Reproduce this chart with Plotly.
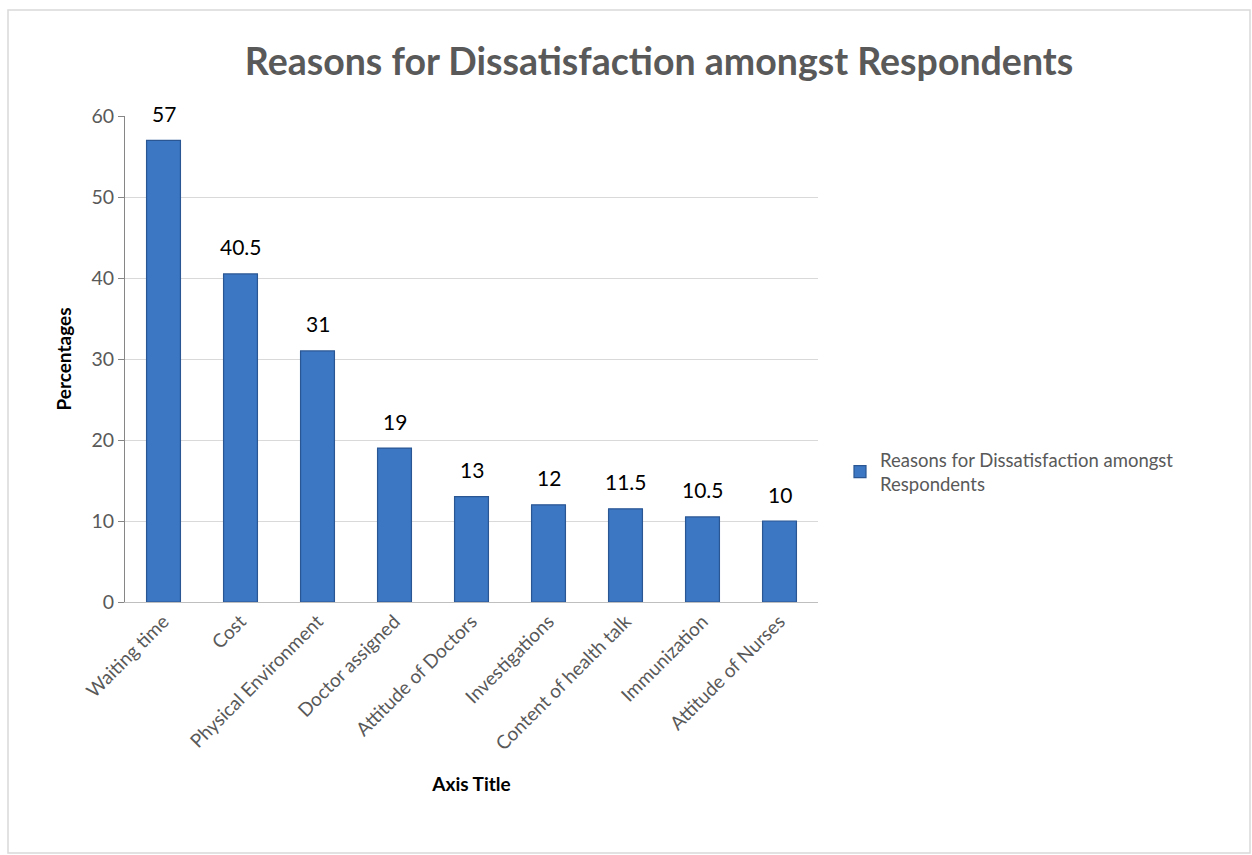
import plotly.graph_objects as go

categories = ["Waiting time", "Cost", "Physical Environment", "Doctor assigned",
              "Attitude of Doctors", "Investigations", "Content of health talk",
              "Immunization", "Attitude of Nurses"]
values = [57, 40.5, 31, 19, 13, 12, 11.5, 10.5, 10]
labels = ["57", "40.5", "31", "19", "13", "12", "11.5", "10.5", "10"]
series_name = "Reasons for Dissatisfaction amongst<br>Respondents"
title_text = "Reasons for Dissatisfaction amongst Respondents"

W, H = 1252, 855
L, R, T, B = 125, 434, 116, 253
pw, ph = W - L - R, H - T - B

def px_x(x):
    return (x - L) / pw

def px_y(y):
    return (H - B - y) / ph

FONT = "Lato, Calibri, Carlito, sans-serif"

fig = go.Figure()
fig.add_trace(go.Bar(
    x=categories, y=values, name=series_name,
    marker=dict(color="#3C77C3", line=dict(color="#2A5794", width=1.2)),
    cliponaxis=False,
))

for c, v, t in zip(categories, values, labels):
    fig.add_annotation(x=c, y=v, text=t, showarrow=False, yanchor="middle",
                       yshift=27, font=dict(family=FONT, size=21, color="#000000"))

fig.update_layout(
    width=W, height=H,
    margin=dict(l=L, r=R, t=T, b=B),
    paper_bgcolor="white", plot_bgcolor="white",
    bargap=0.56,
    showlegend=True,
    legend=dict(x=px_x(840), y=px_y(441), xanchor="left", yanchor="top",
                font=dict(family=FONT, size=18.5, color="#595959"),
                bgcolor="rgba(0,0,0,0)"),
    title=dict(text="<b>" + title_text + "</b>", x=px_x(659), xanchor="center",
               xref="paper", y=1 - 62 / H, yanchor="middle",
               font=dict(family=FONT, size=37.5, color="#595959")),
    font=dict(family=FONT),
)

fig.update_xaxes(
    tickangle=-45, showline=True, linecolor="#BFBFBF", linewidth=1,
    ticks="", tickfont=dict(family=FONT, size=19, color="#595959"),
    title=dict(text="<b>Axis Title</b>", font=dict(family=FONT, size=19, color="#000000"),
               standoff=24),
)
fig.update_yaxes(
    range=[0, 60], dtick=10, showgrid=True, gridcolor="#D9D9D9", gridwidth=1,
    showline=True, linecolor="#868686", linewidth=1,
    ticks="outside", ticklen=6, tickcolor="#868686",
    tickfont=dict(family=FONT, size=19.5, color="#595959"),
    zeroline=False,
    title=dict(text="<b>Percentages</b>", font=dict(family=FONT, size=19, color="#000000"),
               standoff=14),
)

fig.add_shape(type="rect", xref="paper", yref="paper",
              x0=px_x(8), x1=px_x(1250), y0=px_y(853), y1=px_y(10),
              line=dict(color="#D9D9D9", width=1.5), fillcolor="rgba(0,0,0,0)")

fig.write_html("out.html")
